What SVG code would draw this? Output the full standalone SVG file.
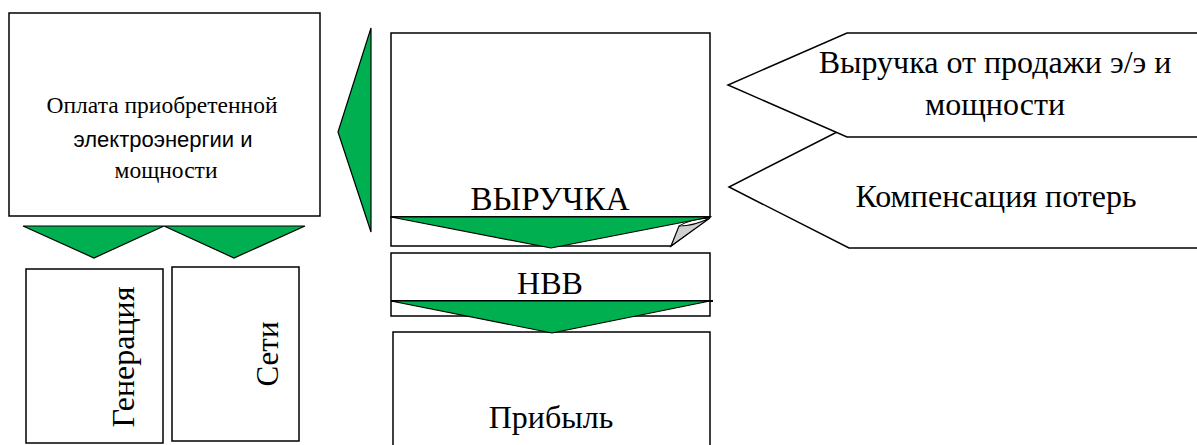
<svg xmlns="http://www.w3.org/2000/svg" width="1197" height="445" viewBox="0 0 1197 445">
<style>
.box{fill:#fff;stroke:#000;stroke-width:1.5}
.grn{fill:#00B050;stroke:#000;stroke-width:1.2;stroke-linejoin:miter}
.wh{fill:#fff;stroke:#000;stroke-width:1.5}
text{fill:#000;text-anchor:middle}
.t{font-family:'Liberation Serif','Times New Roman',serif}
.s{font-family:'Liberation Sans',Arial,sans-serif}
</style>
<rect width="1197" height="445" fill="#fff"/>
<g id="payment">
<rect class="box" x="9" y="13" width="311" height="203"/>
<text class="t" x="162" y="113" font-size="23.5">Оплата приобретенной</text>
<text class="s" x="163" y="147" font-size="22">электроэнергии и</text>
<text class="t" x="166" y="178" font-size="23.5">мощности</text>
</g>
<g id="sales">
<polygon class="wh" points="1200,132 837,132 729,187 849,248 1200,248"/>
<text class="t" x="996" y="207" font-size="32">Компенсация потерь</text>
</g>
<g id="sales-revenue">
<polygon class="wh" points="1200,33 847,33 728,85 847,137 1200,137"/>
<text class="t" x="995" y="73" font-size="32">Выручка от продажи э/э и</text>
<text class="t" x="995" y="115" font-size="32">мощности</text>
</g>
<g id="revenue">
<rect class="box" x="391" y="33" width="319" height="184"/>
<path class="wh" d="M391,217 H710 L671,246 H391 Z"/>
<path d="M671,246 L679,226 Q694,226 710,218 Z" fill="#d0d0d0" stroke="#000" stroke-width="1.2"/>
<path d="M679,226 Q690,219 710,218" fill="#fff" stroke="#000" stroke-width="1"/>
<text class="t" x="550" y="210" font-size="33">ВЫРУЧКА</text>
</g>
<g id="profit">
<rect class="box" x="393" y="332" width="317" height="130"/>
<text class="t" x="551" y="428" font-size="32">Прибыль</text>
</g>
<g id="nvv">
<rect class="box" x="391" y="253" width="319" height="63"/>
<text class="t" x="550" y="294" font-size="32">НВВ</text>
<line x1="391" y1="301" x2="713" y2="301" stroke="#000" stroke-width="2"/>
</g>
<g id="generation">
<rect class="box" x="26" y="269" width="137" height="174"/>
<text class="t" transform="translate(134,357) rotate(-90)" font-size="32">Генерация</text>
</g>
<g id="networks">
<rect class="box" x="172" y="267" width="127" height="174"/>
<text class="t" transform="translate(278,354) rotate(-90)" font-size="31">Сети</text>
</g>
<g id="connectors">
<polygon class="grn" points="371,28 338,132 371,232"/>
<polygon class="grn" points="391,217 710,217 551,248"/>
<polygon class="grn" points="391,301 710,301 552,333"/>
<polygon class="grn" points="23,226 164,226 94,258"/>
<polygon class="grn" points="164,226 305,226 234,258"/>
</g>
</svg>
